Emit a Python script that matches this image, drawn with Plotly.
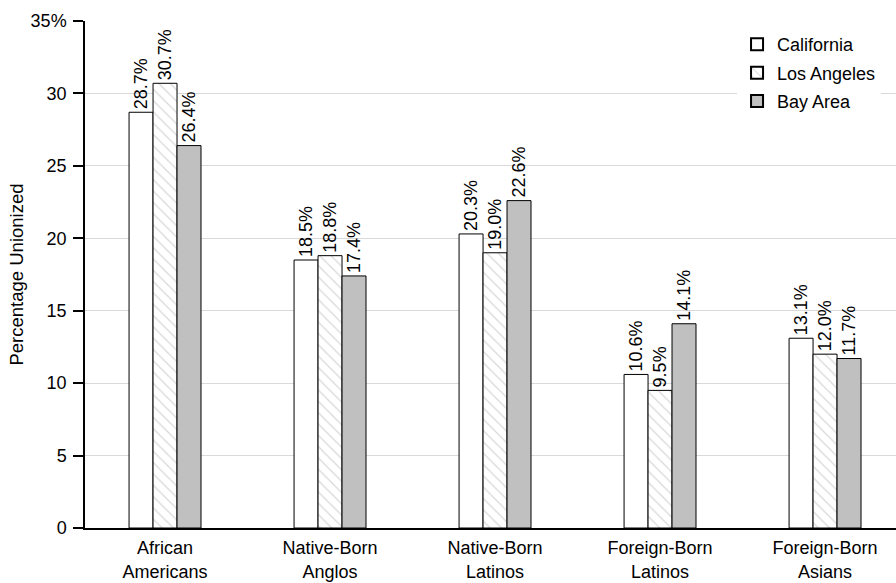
import plotly.graph_objects as go

categories = ["African<br>Americans", "Native-Born<br>Anglos", "Native-Born<br>Latinos",
              "Foreign-Born<br>Latinos", "Foreign-Born<br>Asians"]
california = [28.7, 18.5, 20.3, 10.6, 13.1]
los_angeles = [30.7, 18.8, 19.0, 9.5, 12.0]
bay_area = [26.4, 17.4, 22.6, 14.1, 11.7]
y_ticks = [0, 5, 10, 15, 20, 25, 30, 35]
y_tick_labels = ["0", "5", "10", "15", "20", "25", "30", "35%"]

FONT = "Liberation Sans"
x_idx = list(range(len(categories)))

def lbl(vals):
    return [f"{v:.1f}%" for v in vals]

fig = go.Figure()
fig.add_trace(go.Bar(
    name="California", x=x_idx, y=california, text=lbl(california), legendgroup="a",
    marker=dict(color="white", line=dict(color="black", width=1)),
))
fig.add_trace(go.Bar(
    name="Los Angeles", x=x_idx, y=los_angeles, text=lbl(los_angeles), legendgroup="b",
    marker=dict(color="white", line=dict(color="black", width=1),
                pattern=dict(shape="\\", fgcolor="#b0b0b0", bgcolor="white",
                             size=8, solidity=0.15)),
))
fig.add_trace(go.Bar(
    name="Bay Area", x=x_idx, y=bay_area, text=lbl(bay_area), legendgroup="c",
    marker=dict(color="#c0c0c0", line=dict(color="black", width=1)),
))
fig.update_traces(textposition="outside", textangle=-90, cliponaxis=False,
                  textfont=dict(family=FONT, size=18, color="black"))

fig.update_layout(
    width=896, height=583,
    margin=dict(l=85, r=0, t=21, b=55),
    paper_bgcolor="white", plot_bgcolor="white",
    barmode="group", bargap=0.564, bargroupgap=0,
    font=dict(family=FONT, size=18, color="black"),
    showlegend=True,
    legend=dict(x=0.804, y=0.99, xanchor="left", yanchor="top",
                bgcolor="white", font=dict(family=FONT, size=18, color="black"),
                itemsizing="constant", tracegroupgap=2, traceorder="grouped"),
    uniformtext=dict(minsize=18, mode="show"),
)
fig.update_xaxes(
    range=[-0.485, 4.43], tickvals=x_idx, ticktext=categories,
    showline=True, linecolor="black", linewidth=1.5, ticks="",
    showgrid=False, zeroline=False, automargin=False, ticklabelstandoff=3,
    tickfont=dict(family=FONT, size=18, color="black"),
)
fig.update_yaxes(
    range=[0, 35], tickvals=y_ticks, ticktext=y_tick_labels,
    showline=True, linecolor="black", linewidth=1.5,
    ticks="outside", ticklen=10, tickcolor="black", tickwidth=1.5,
    showgrid=True, gridcolor="#d9d9d9", gridwidth=1, zeroline=False, automargin=False,
    ticklabelstandoff=3,
    title=dict(text="Percentage Unionized", font=dict(family=FONT, size=18.5, color="black"), standoff=2),
    tickfont=dict(family=FONT, size=18, color="black"),
)
fig.write_html("out.html", config={"displayModeBar": False},
               post_script="document.body.style.margin='0';document.body.style.overflow='hidden';")
